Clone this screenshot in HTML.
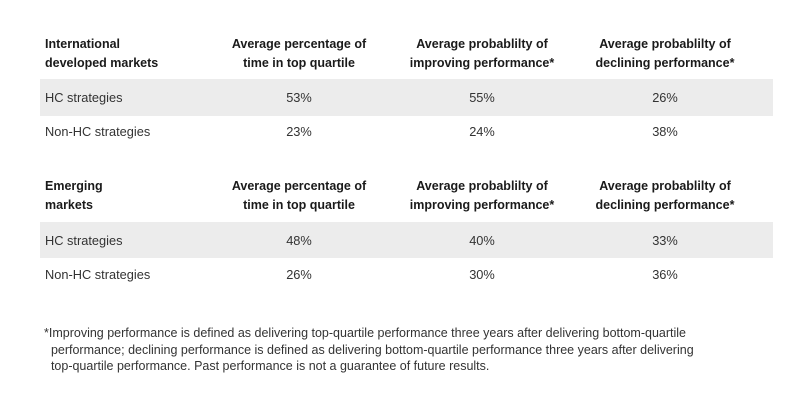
<!DOCTYPE html>
<html><head><meta charset="utf-8"><style>
body{margin:0;width:800px;height:402px;background:#fff;font-family:"Liberation Sans",sans-serif;color:#222;position:relative;overflow:hidden}
.a{position:absolute;white-space:nowrap}
.h{font-weight:bold;font-size:12.5px;line-height:19px;color:#1a1a1a}
.c{text-align:center;transform:translateX(-50%)}
.r{font-size:12.8px;color:#333}
.band{position:absolute;left:40px;width:733px;background:#ececec}
.f{font-size:12.5px;line-height:16.5px;color:#333}
</style></head><body>
<div class="band" style="top:79px;height:37px"></div>
<div class="band" style="top:222px;height:36px"></div>

<div class="a h" style="left:45px;top:35px">International<br>developed markets</div>
<div class="a h c" style="left:299px;top:35px">Average percentage of<br>time in top quartile</div>
<div class="a h c" style="left:482px;top:35px">Average probablilty of<br>improving performance*</div>
<div class="a h c" style="left:665px;top:35px">Average probablilty of<br>declining performance*</div>

<div class="a r" style="left:45px;top:90px">HC strategies</div>
<div class="a r c" style="left:299px;top:90px">53%</div>
<div class="a r c" style="left:482px;top:90px">55%</div>
<div class="a r c" style="left:665px;top:90px">26%</div>
<div class="a r" style="left:45px;top:124px">Non-HC strategies</div>
<div class="a r c" style="left:299px;top:124px">23%</div>
<div class="a r c" style="left:482px;top:124px">24%</div>
<div class="a r c" style="left:665px;top:124px">38%</div>

<div class="a h" style="left:45px;top:177px">Emerging<br>markets</div>
<div class="a h c" style="left:299px;top:177px">Average percentage of<br>time in top quartile</div>
<div class="a h c" style="left:482px;top:177px">Average probablilty of<br>improving performance*</div>
<div class="a h c" style="left:665px;top:177px">Average probablilty of<br>declining performance*</div>

<div class="a r" style="left:45px;top:233px">HC strategies</div>
<div class="a r c" style="left:299px;top:233px">48%</div>
<div class="a r c" style="left:482px;top:233px">40%</div>
<div class="a r c" style="left:665px;top:233px">33%</div>
<div class="a r" style="left:45px;top:267px">Non-HC strategies</div>
<div class="a r c" style="left:299px;top:267px">26%</div>
<div class="a r c" style="left:482px;top:267px">30%</div>
<div class="a r c" style="left:665px;top:267px">36%</div>

<div class="a f" style="left:44px;top:325px">*Improving performance is defined as delivering top-quartile performance three years after delivering bottom-quartile<br>&nbsp;&nbsp;performance; declining performance is defined as delivering bottom-quartile performance three years after delivering<br>&nbsp;&nbsp;top-quartile performance. Past performance is not a guarantee of future results.</div>
</body></html>
